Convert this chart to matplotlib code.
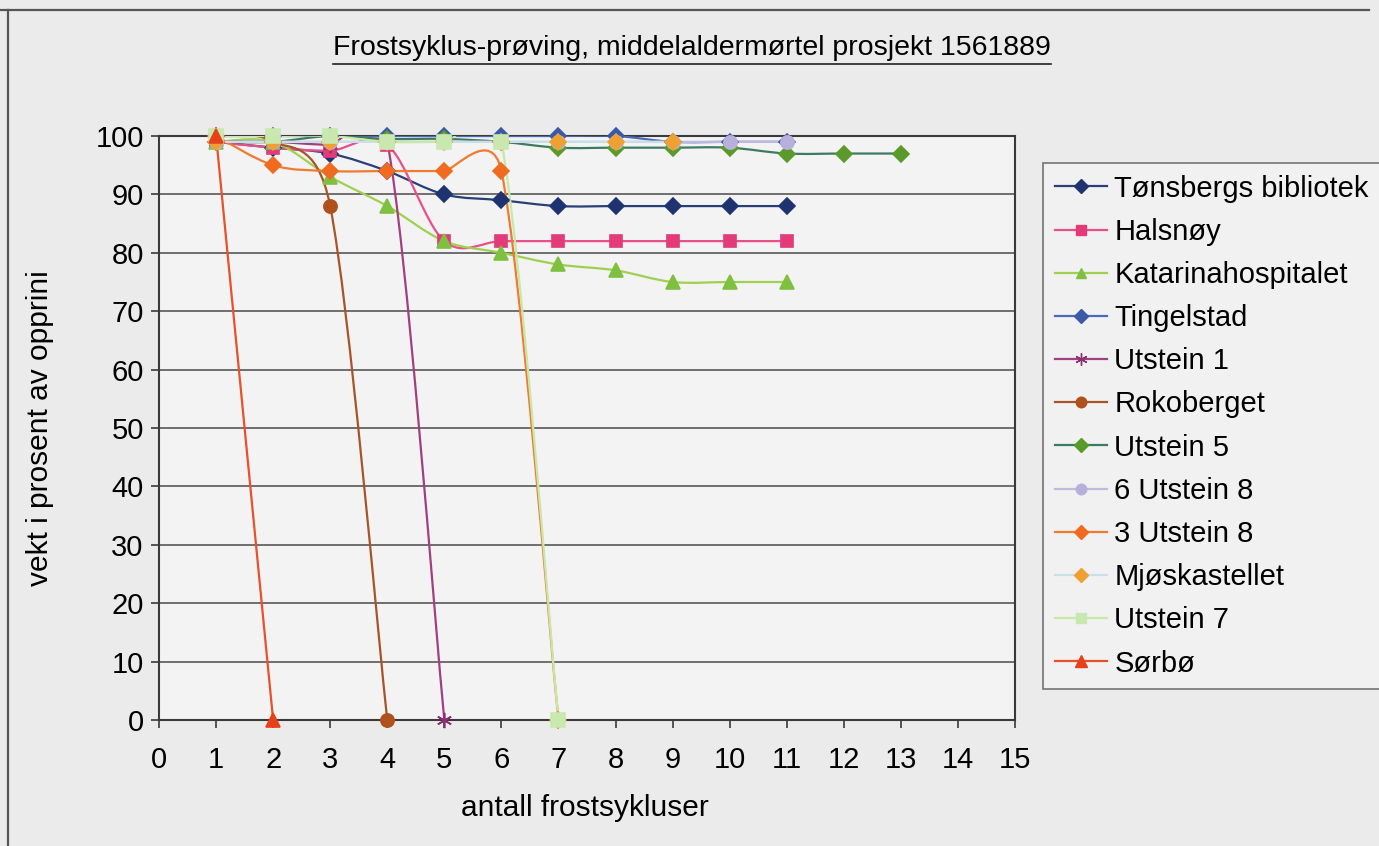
import numpy as np
import matplotlib
matplotlib.use('Agg')
from matplotlib import pyplot as plt
from matplotlib.path import Path
from matplotlib.patches import PathPatch
from matplotlib.lines import Line2D

plt.rcParams['font.family'] = ['Liberation Sans', 'DejaVu Sans']

# vekt i prosent etter hver frostsyklus
tonsberg = [99, 98, 97, 94, 90, 89, 88, 88, 88, 88, 88]
halsnoy = [99, 98, 97.5, 98.5, 82, 82, 82, 82, 82, 82, 82]
katarina = [99, 99, 93, 88, 82, 80, 78, 77, 75, 75, 75]
tingelstad = [100, 100, 100, 100, 100, 100, 100, 100, 99, 99, 99]
utstein1 = [99, 99, 98.5, 99, 0]
rokoberget = [100, 99, 88, 0]
utstein5 = [99, 99, 100, 99.5, 99.5, 99, 98, 98, 98, 98, 97, 97, 97]
u6_utstein8 = [99, 99, 99, 99, 99, 99, 99, 99, 99, 99, 99]
u3_utstein8 = [100, 95, 94, 94, 94, 94, 0]
mjoskastellet = [99, 99, 99, 99, 99, 99, 99, 99, 99]
utstein7 = [100, 100, 100, 99, 99, 99, 0]
sorbo = [100, 0]

names = ['Tønsbergs bibliotek', 'Halsnøy', 'Katarinahospitalet', 'Tingelstad',
         'Utstein 1', 'Rokoberget', 'Utstein 5', '6 Utstein 8', '3 Utstein 8',
         'Mjøskastellet', 'Utstein 7', 'Sørbø']
series = [tonsberg, halsnoy, katarina, tingelstad, utstein1, rokoberget,
          utstein5, u6_utstein8, u3_utstein8, mjoskastellet, utstein7, sorbo]

# (linjefarge, markørfarge, markør, størrelse)
styles = [
    ('#2a3f78', '#1f3370', 'D', 8.5),
    ('#e8508a', '#e33a7a', 's', 8.5),
    ('#9fd050', '#7fc040', '^', 9.5),
    ('#4a6cb8', '#3a5aa8', 'D', 8.5),
    ('#a04080', '#8a3070', (6, 2, 0), 11),
    ('#a8542a', '#b0501c', 'o', 9.5),
    ('#3e7a60', '#5a9a2a', 'D', 8.5),
    ('#c0bae0', '#b8b0dc', 'o', 9.5),
    ('#f07a30', '#f06a20', 'D', 8.5),
    ('#c8e0ea', '#f0a030', 'D', 8.5),
    ('#c8e8a8', '#c8e8b0', 's', 9.5),
    ('#e8502a', '#e84018', '^', 10.5),
]


def smooth_path(x, y, sx, sy):
    # glatt kurve gjennom punktene (Bezier); tangentene kortes ned
    # når de til sammen blir lengre enn segmentet (regnet i piksler)
    p = np.column_stack([x, y]).astype(float)
    scale = np.array([sx, sy])
    verts = [p[0]]
    codes = [Path.MOVETO]
    n = len(p)
    for i in range(n - 1):
        p0 = p[i - 1] if i > 0 else p[i]
        p1 = p[i]
        p2 = p[i + 1]
        p3 = p[i + 2] if i + 2 < n else p[i + 1]
        t1 = (p2 - p0) / 6
        t2 = (p3 - p1) / 6
        seg = np.hypot(*((p2 - p1) * scale))
        tot = np.hypot(*(t1 * scale)) + np.hypot(*(t2 * scale))
        if tot > seg:
            t1 = t1 * seg / tot
            t2 = t2 * seg / tot
        verts += [p1 + t1, p2 - t2, p2]
        codes += [Path.CURVE4] * 3
    return Path(verts, codes)


fig = plt.figure(figsize=(13.79, 8.46), dpi=100)
fig.patch.set_facecolor('#ebebeb')
ax = fig.add_axes([159 / 1379, 1 - 720 / 846, 856 / 1379, 584 / 846])
ax.set_facecolor('#f3f3f3')
ax.set_xlim(0, 15)
ax.set_ylim(0, 100)
px_x = 856 / 15
px_y = 584 / 100

handles = []
for vals, name, (lc, mc, mk, ms) in zip(series, names, styles):
    x = np.arange(1, len(vals) + 1)
    ax.add_patch(PathPatch(smooth_path(x, vals, px_x, px_y), facecolor='none',
                           edgecolor=lc, lw=1.6, zorder=3))
    ax.plot(x, vals, linestyle='none', marker=mk, ms=ms, color=mc,
            markeredgecolor=mc, mew=1.2, zorder=4, clip_on=False)
    handles.append(Line2D([], [], color=lc, lw=1.6, marker=mk, ms=ms * 0.8,
                          markerfacecolor=mc, markeredgecolor=mc))

ax.set_xticks(range(0, 16))
ax.set_yticks(range(0, 101, 10))
ax.yaxis.grid(True, color='#6e6e6e', lw=1.4)
ax.set_axisbelow(True)
for s in ax.spines.values():
    s.set_color('#3a3a3a')
    s.set_linewidth(1.5)
ax.tick_params(axis='both', labelsize=21, length=6, width=1.2, color='#3a3a3a',
               direction='out')
ax.tick_params(axis='x', pad=13)
ax.tick_params(axis='y', pad=5)

fig.text(40 / 1379, 1 - 428 / 846, 'vekt i prosent av opprini', rotation=90,
         ha='center', va='center', fontsize=21.5)
fig.text(585 / 1379, 1 - 808 / 846, 'antall frostsykluser', ha='center',
         va='center', fontsize=21.5)
title = fig.text(692 / 1379, 1 - 48 / 846,
                 'Frostsyklus-prøving, middelaldermørtel prosjekt 1561889',
                 ha='center', va='center', fontsize=20.5)

leg = fig.legend(handles, names, loc='upper left',
                 bbox_to_anchor=(1043 / 1379, 1 - 163 / 846), borderaxespad=0,
                 fontsize=21, frameon=True, fancybox=False, handlelength=1.8,
                 labelspacing=0.52, handletextpad=0.25, borderpad=0.4)
leg.get_frame().set_edgecolor('#555555')
leg.get_frame().set_facecolor('#f3f3f3')
leg.get_frame().set_linewidth(1.2)

# strek under tittelen og kant rundt diagrammet
fig.canvas.draw()
bb = title.get_window_extent().transformed(fig.transFigure.inverted())
fig.add_artist(Line2D([bb.x0, bb.x1], [bb.y0 - 0.004, bb.y0 - 0.004],
                      transform=fig.transFigure, color='#222222', lw=1.2))
fig.add_artist(Line2D([0, 0.993], [1 - 10 / 846, 1 - 10 / 846],
                      transform=fig.transFigure, color='#555555', lw=1.6))
fig.add_artist(Line2D([8 / 1379, 8 / 1379], [0, 1 - 10 / 846],
                      transform=fig.transFigure, color='#555555', lw=1.6))

fig.savefig('out.png', dpi=100, facecolor=fig.get_facecolor())
